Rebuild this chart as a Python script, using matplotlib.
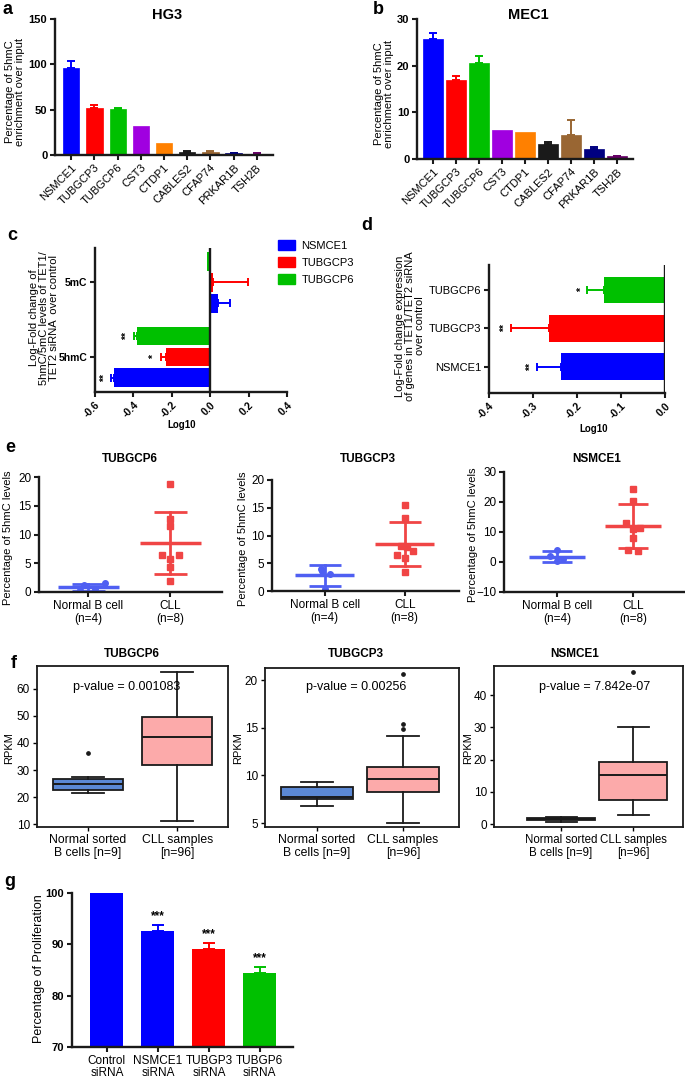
import numpy as np
import matplotlib
matplotlib.use('Agg')
import matplotlib.pyplot as plt
from matplotlib.patches import Patch

plt.rcParams['font.family'] = ['Liberation Sans', 'DejaVu Sans']
plt.rcParams['font.size'] = 8
plt.rcParams['axes.linewidth'] = 1.7
plt.rcParams['xtick.major.width'] = 1.5
plt.rcParams['ytick.major.width'] = 1.5
plt.rcParams['xtick.major.size'] = 3.5
plt.rcParams['ytick.major.size'] = 3.5
plt.rcParams['xtick.major.pad'] = 2
plt.rcParams['ytick.major.pad'] = 2

W, H = 685, 1081

# ---------------- data ----------------
# panels a / b
genes_ab = ['NSMCE1', 'TUBGCP3', 'TUBGCP6', 'CST3', 'CTDP1', 'CABLES2', 'CFAP74', 'PRKAR1B', 'TSH2B']
gene_colors = ['#0000ff', '#ff0000', '#00c000', '#a000e0', '#ff8000', '#1a1a1a', '#996633', '#000080', '#660066']
hg3_vals = [96.3, 51.5, 50.7, 32.0, 12.9, 3.7, 3.7, 1.8, 1.5]
hg3_err = [7.4, 3.5, 0.8, 0, 0, 0.3, 0.3, 0.8, 0.2]
mec1_vals = [25.7, 16.9, 20.5, 6.2, 5.8, 3.2, 5.2, 2.2, 0.6]
mec1_err = [1.4, 0.8, 1.5, 0, 0, 0.4, 3.1, 0.4, 0.1]

# panel c
c_categories = ['5hmC', '5mC']
c_genes = ['NSMCE1', 'TUBGCP3', 'TUBGCP6']
c_colors = ['#0000ff', '#ff0000', '#00c000']
c_vals = {'NSMCE1': [-0.500, 0.040], 'TUBGCP3': [-0.232, 0.015], 'TUBGCP6': [-0.380, -0.016]}
c_err = {'NSMCE1': [0.015, 0.063], 'TUBGCP3': [0.026, 0.180], 'TUBGCP6': [0.018, 0.0]}
c_stars = {'NSMCE1': ['**', ''], 'TUBGCP3': ['*', ''], 'TUBGCP6': ['**', '']}

# panel d
d_genes = ['NSMCE1', 'TUBGCP3', 'TUBGCP6']
d_colors = ['#0000ff', '#ff0000', '#00c000']
d_vals = [-0.236, -0.263, -0.138]
d_err = [0.056, 0.088, 0.040]
d_stars = ['**', '**', '*']

# panel e (dot plots)
e_titles = ['TUBGCP6', 'TUBGCP3', 'NSMCE1']
e_normal = [[1.6, 1.3, 0.6, 0.3], [3.9, 3.1, 0.4, 3.6], [4.0, 2.0, 1.0, 0.2]]
e_normal_jit = [[0.2, -0.05, 0.08, -0.1], [-0.05, 0.07, 0.0, -0.03], [0.0, -0.1, 0.08, 0.0]]
e_cll = [[18.8, 12.7, 11.4, 6.5, 6.5, 5.8, 4.4, 2.0],
         [15.5, 13.2, 8.1, 7.9, 7.2, 6.4, 6.0, 3.4],
         [24.5, 20.3, 13.0, 11.3, 11.0, 8.0, 4.0, 3.7]]
e_cll_jit = [[0, 0, 0, -0.1, 0.1, 0, 0, 0],
             [0, 0, -0.04, 0.03, 0.1, -0.09, 0, 0],
             [0, 0, -0.1, 0.09, 0, 0, -0.07, 0.06]]
e_normal_mean = [0.85, 2.85, 1.75]
e_normal_sd = [0.6, 1.9, 1.9]
e_cll_mean = [8.5, 8.45, 12.0]
e_cll_sd = [5.45, 3.95, 7.4]
e_ylims = [(0, 20), (0, 20), (-10, 30)]
e_yticks = [[0, 5, 10, 15, 20], [0, 5, 10, 15, 20], [-10, 0, 10, 20, 30]]
e_xlabels = ['Normal B cell\n(n=4)', 'CLL\n(n=8)']

# panel f (box plots: whislo, q1, med, q3, whishi, fliers)
f_titles = ['TUBGCP6', 'TUBGCP3', 'NSMCE1']
f_pvalues = ['p-value = 0.001083', 'p-value = 0.00256', 'p-value = 7.842e-07']
f_normal = [(21.5, 22.6, 24.8, 26.5, 27.5, [36.2]),
            (6.8, 7.55, 7.7, 8.8, 9.3, []),
            (0.8, 1.2, 1.5, 2.0, 2.3, [])]
f_cll = [(11.2, 31.7, 42.1, 49.8, 66.4, []),
         (5.0, 8.28, 9.6, 10.88, 14.16, [14.86, 15.35, 20.6]),
         (2.8, 7.5, 15.3, 19.3, 30.0, [47.2])]
f_ylims = [(8.9, 68.5), (4.6, 21.26), (-0.9, 49.0)]
f_yticks = [[10, 20, 30, 40, 50, 60], [5, 10, 15, 20], [0, 10, 20, 30, 40]]
f_xlabels = ['Normal sorted\nB cells [n=9]', 'CLL samples\n[n=96]']

# panel g
g_labels = ['Control\nsiRNA', 'NSMCE1\nsiRNA', 'TUBGP3\nsiRNA', 'TUBGP6\nsiRNA']
g_vals = [100, 92.6, 89.1, 84.4]
g_err = [0, 1.2, 1.1, 1.2]
g_colors = ['#0000ff', '#0000ff', '#ff0000', '#00c000']

# ---------------- helpers ----------------
fig = plt.figure(figsize=(W / 100, H / 100), dpi=100)


def add_ax(left, top, right, bottom):
    return fig.add_axes([left / W, 1 - bottom / H, (right - left) / W, (bottom - top) / H])


def ftext(x, y, s, **kw):
    return fig.text(x / W, 1 - y / H, s, **kw)


def gp_style(ax):
    ax.spines['top'].set_visible(False)
    ax.spines['right'].set_visible(False)
    for sp in ax.spines.values():
        sp.set_color('#1a1a1a')
    ax.tick_params(direction='out', color='#1a1a1a')


def bold_ticks(labels):
    for t in labels:
        t.set_fontweight('bold')


# ---------------- panels a, b ----------------
for (l, t, r, b), vals, errs, title, ymax, yt, bw, ylx, let, lx in [
        ((55, 19, 273, 155), hg3_vals, hg3_err, 'HG3', 150, [0, 50, 100, 150], 0.7, 15, 'a', 8),
        ((417, 19, 633, 159), mec1_vals, mec1_err, 'MEC1', 30, [0, 10, 20, 30], 0.85, 384, 'b', 378)]:
    ax = add_ax(l, t, r, b)
    gp_style(ax)
    x = np.arange(len(genes_ab))
    ax.bar(x, vals, width=bw, color=gene_colors, edgecolor=gene_colors, linewidth=0.5)
    for i in range(len(x)):
        if errs[i] > 0:
            ax.errorbar(x[i], vals[i], yerr=[[0], [errs[i]]], color=gene_colors[i],
                        capsize=3, elinewidth=1.4, capthick=1.4)
    ax.set_xlim(-0.7, 8.7)
    ax.set_ylim(0, ymax)
    ax.set_yticks(yt)
    ax.set_xticks(x)
    ax.set_xticklabels(genes_ab, rotation=45, ha='right', rotation_mode='anchor', fontsize=8)
    ax.tick_params(axis='y', labelsize=8)
    bold_ticks(ax.get_yticklabels())
    ftext((l + r) / 2 + 3, 15, title, ha='center', va='center', fontsize=10.5, fontweight='bold')
    ftext(ylx, (t + b) / 2 + 5, 'Percentage of 5hmC\nenrichment over input', rotation=90,
          ha='center', va='center', fontsize=8, linespacing=1.1)
    ftext(lx, 10, let, ha='center', va='center', fontsize=13, fontweight='bold')

# ---------------- panel c ----------------
ax = add_ax(95, 248, 287, 392)
gp_style(ax)
yc = np.arange(len(c_categories))
offsets = {'NSMCE1': -0.28, 'TUBGCP3': 0.0, 'TUBGCP6': 0.28}
for g, col in zip(c_genes, c_colors):
    for j in range(len(yc)):
        v = c_vals[g][j]
        e = c_err[g][j]
        ax.barh(yc[j] + offsets[g], v, height=0.25, color=col)
        if e > 0:
            xe = [[e], [0]] if v < 0 else [[0], [e]]
            ax.errorbar(v, yc[j] + offsets[g], xerr=xe, color=col, capsize=3,
                        elinewidth=1.4, capthick=1.4)
        if c_stars[g][j]:
            ax.text(v - e - 0.035, yc[j] + offsets[g], c_stars[g][j], rotation=90,
                    ha='center', va='center', fontsize=7.5, fontweight='bold')
ax.axvline(0, color='#1a1a1a', lw=1.7)
ax.set_xlim(-0.6, 0.4)
ax.set_ylim(-0.47, 1.46)
ax.set_yticks(yc)
ax.set_yticklabels(c_categories, fontweight='bold', fontsize=7.5)
ax.set_xticks([-0.6, -0.4, -0.2, 0.0, 0.2, 0.4])
ax.set_xticklabels(['-0.6', '-0.4', '-0.2', '0.0', '0.2', '0.4'], rotation=45,
                   ha='right', rotation_mode='anchor', fontweight='bold', fontsize=7.5)
ftext(182, 425, 'Log10', ha='center', va='center', fontsize=7, fontweight='bold')
ftext(44, 318, 'Log-Fold change of\n5hmC/5mC levels of TET1/\nTET2 siRNA  over control',
      rotation=90, ha='center', va='center', fontsize=8, linespacing=1.05)
ftext(12, 235, 'c', ha='center', va='center', fontsize=13, fontweight='bold')
handles = [Patch(color=col) for col in c_colors]
fig.legend(handles, c_genes, loc='upper left', bbox_to_anchor=(268 / W, 1 - 230 / H),
           frameon=False, fontsize=8, handlelength=1.5, handleheight=1.0,
           labelspacing=0.55, handletextpad=0.6)

# ---------------- panel d ----------------
ax = add_ax(489, 265, 665, 393)
gp_style(ax)
yd = np.arange(len(d_genes))
ax.barh(yd, d_vals, height=0.7, color=d_colors)
for i in range(len(yd)):
    ax.errorbar(d_vals[i], yd[i], xerr=[[d_err[i]], [0]], color=d_colors[i], capsize=3,
                elinewidth=1.4, capthick=1.4)
    ax.text(d_vals[i] - d_err[i] - 0.012, yd[i], d_stars[i], rotation=90,
            ha='center', va='center', fontsize=7.5, fontweight='bold')
ax.axvline(0, color='#1a1a1a', lw=1.7)
ax.set_xlim(-0.4, 0.0)
ax.set_ylim(-0.68, 2.65)
ax.set_yticks(yd)
ax.set_yticklabels(d_genes, fontsize=8)
ax.set_xticks([-0.4, -0.3, -0.2, -0.1, 0.0])
ax.set_xticklabels(['-0.4', '-0.3', '-0.2', '-0.1', '0.0'], rotation=45,
                   ha='right', rotation_mode='anchor', fontweight='bold', fontsize=7.5)
ftext(594, 429, 'Log10', ha='center', va='center', fontsize=7, fontweight='bold')
ftext(410, 326, 'Log-Fold change expression\nof genes in TET1/TET2 siRNA\nover control',
      rotation=90, ha='center', va='center', fontsize=8, linespacing=1.05)
ftext(367, 226, 'd', ha='center', va='center', fontsize=13, fontweight='bold')

# ---------------- panel e ----------------
e_rects = [(39, 477, 222, 592), (272, 480, 459, 591), (504, 472, 685, 592)]
e_xlims = [(-0.6, 1.63), (-0.66, 1.68), (-0.7, 1.68)]
e_ylab_x = [8, 243, 473]
e_title_x = [130, 368, 597]
blue_e = '#4f5ff2'
red_e = '#f04545'
for k in range(3):
    l, t, r, b = e_rects[k]
    ax = add_ax(l, t, r, b)
    gp_style(ax)
    for xpos, pts, jit, mean, sd, col, mk in [
            (0, e_normal[k], e_normal_jit[k], e_normal_mean[k], e_normal_sd[k], blue_e, 'o'),
            (1, e_cll[k], e_cll_jit[k], e_cll_mean[k], e_cll_sd[k], red_e, 's')]:
        ax.plot(xpos + np.array(jit), pts, linestyle='none', marker=mk, color=col, markersize=4)
        ax.plot([xpos - 0.37, xpos + 0.37], [mean, mean], color=col, lw=2.5, solid_capstyle='butt')
        ax.plot([xpos, xpos], [mean - sd, mean + sd], color=col, lw=2.0)
        for yy in (mean - sd, mean + sd):
            ax.plot([xpos - 0.2, xpos + 0.2], [yy, yy], color=col, lw=2.0, solid_capstyle='butt')
    ax.set_xlim(*e_xlims[k])
    ax.set_ylim(*e_ylims[k])
    ax.set_yticks(e_yticks[k])
    ax.set_xticks([0, 1])
    ax.set_xticklabels(e_xlabels, fontsize=8.5, linespacing=1.1)
    ax.tick_params(axis='y', labelsize=8.5)
    ftext(e_ylab_x[k], (t + b) / 2 + 3, 'Percentage of 5hmC levels', rotation=90,
          ha='center', va='center', fontsize=8)
    ftext(e_title_x[k], 459, e_titles[k], ha='center', va='center', fontsize=8.5, fontweight='bold')
ftext(10, 447, 'e', ha='center', va='center', fontsize=13, fontweight='bold')

# ---------------- panel f ----------------
f_rects = [(37, 666, 228, 827), (265, 668, 459, 827), (494, 666, 683, 827)]
f_xlims = [(0.43, 2.57), (0.40, 2.65), (0.07, 2.69)]
f_widths = [0.79, 0.83, 0.95]
f_ylab_x = [9, 238, 468]
f_title_x = [132, 356, 575]
f_text_x = [127, 356, 595]
f_lab_size = [8.8, 8.8, 8.3]
for k in range(3):
    l, t, r, b = f_rects[k]
    ax = add_ax(l, t, r, b)
    stats = []
    for s in (f_normal[k], f_cll[k]):
        stats.append(dict(whislo=s[0], q1=s[1], med=s[2], q3=s[3], whishi=s[4], fliers=s[5]))
    bp = ax.bxp(stats, positions=[1, 2], widths=f_widths[k], patch_artist=True,
                capwidths=f_widths[k] * 0.45,
                boxprops=dict(edgecolor='#1a1a1a', linewidth=1.3),
                medianprops=dict(color='#1a1a1a', linewidth=1.4),
                whiskerprops=dict(color='#1a1a1a', linewidth=1.3),
                capprops=dict(color='#1a1a1a', linewidth=1.3),
                flierprops=dict(marker='o', markersize=2.4, markerfacecolor='#1a1a1a',
                                markeredgecolor='#1a1a1a'))
    bp['boxes'][0].set_facecolor('#5b88d4')
    bp['boxes'][1].set_facecolor('#fcaaaa')
    for sp in ax.spines.values():
        sp.set_linewidth(1.3)
        sp.set_color('#1a1a1a')
    ax.set_xlim(*f_xlims[k])
    ax.set_ylim(*f_ylims[k])
    ax.set_yticks(f_yticks[k])
    ax.set_xticks([1, 2])
    ax.set_xticklabels(f_xlabels, fontsize=f_lab_size[k], linespacing=1.15)
    ax.tick_params(axis='y', labelsize=8.5, direction='out', width=1.0, length=3)
    ax.tick_params(axis='x', direction='out', width=1.0, length=3)
    ftext(f_text_x[k], 687, f_pvalues[k], ha='center', va='center', fontsize=9)
    ftext(f_ylab_x[k], 748, 'RPKM', rotation=90, ha='center', va='center', fontsize=8)
    ftext(f_title_x[k], 654, f_titles[k], ha='center', va='center', fontsize=8.5, fontweight='bold')
ftext(14, 663, 'f', ha='center', va='center', fontsize=13, fontweight='bold')

# ---------------- panel g ----------------
ax = add_ax(72, 893, 293, 1047)
gp_style(ax)
xg = np.arange(len(g_vals))
ax.bar(xg, g_vals, width=0.65, color=g_colors)
for i in range(len(xg)):
    if g_err[i] > 0:
        ax.errorbar(xg[i], g_vals[i], yerr=[[0], [g_err[i]]], color=g_colors[i],
                    capsize=4, elinewidth=1.4, capthick=1.4)
        ax.text(xg[i], g_vals[i] + g_err[i] + 0.6, '***', ha='center', va='bottom',
                fontsize=8.5, fontweight='bold')
ax.set_xlim(-0.685, 3.65)
ax.set_ylim(70, 100)
ax.set_yticks([70, 80, 90, 100])
ax.set_xticks(xg)
ax.set_xticklabels(g_labels, fontsize=8.5, linespacing=1.05)
ax.tick_params(axis='y', labelsize=8)
bold_ticks(ax.get_yticklabels())
ftext(39, 969, 'Percentage of Proliferation', rotation=90, ha='center', va='center', fontsize=9)
ftext(10, 882, 'g', ha='center', va='center', fontsize=13, fontweight='bold')

fig.savefig('out.png', dpi=100)
